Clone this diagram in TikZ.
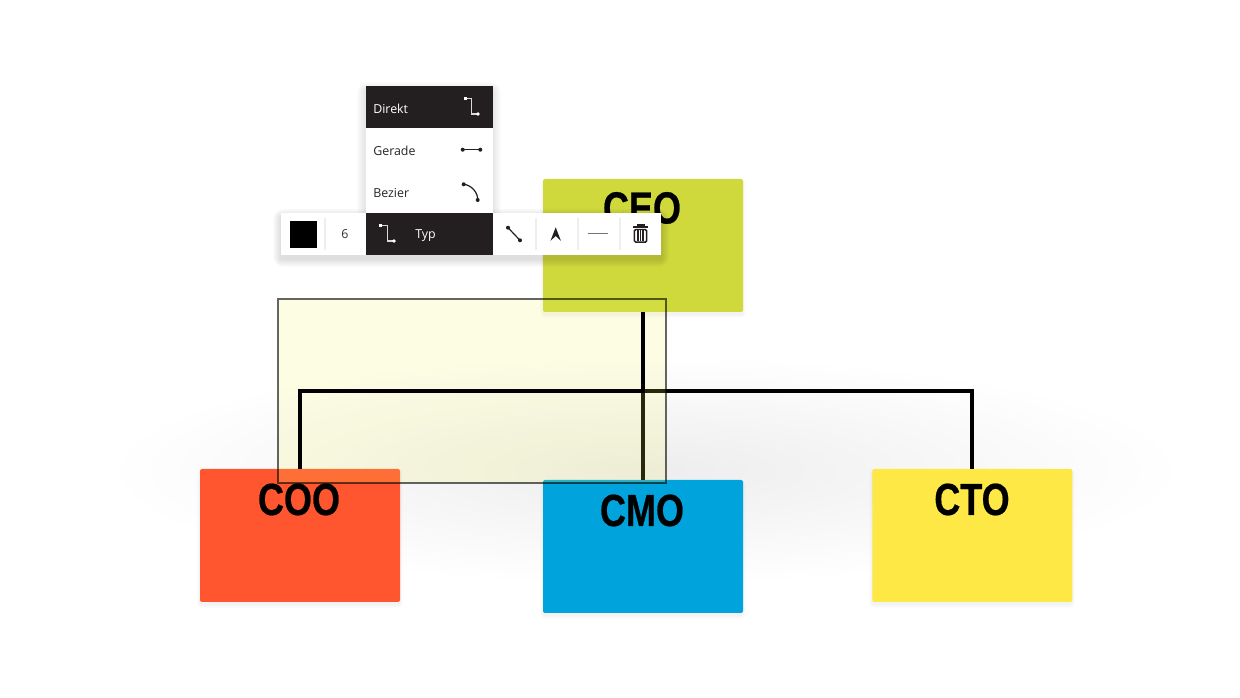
\documentclass[tikz,border=0pt]{standalone}
\usepackage{fontspec}
\setmainfont{Open Sans}
\newfontfamily\stickyfont[FakeStretch=0.8,BoldFeatures={FakeStretch=0.8,FakeBold=0.5}]{Liberation Sans}
\definecolor{ceoc}{HTML}{CFD93B}
\definecolor{cooc}{HTML}{FF5630}
\definecolor{cmoc}{HTML}{00A3DB}
\definecolor{ctoc}{HTML}{FDE845}
\definecolor{uidark}{HTML}{231F20}
\definecolor{sepc}{HTML}{EEEEEE}
\definecolor{selfill}{RGB}{243,243,92}
\newcommand{\softshadow}[6]{%
  \foreach \i in {1,...,#5}{%
    \fill[black,opacity=#6,rounded corners=\i] (#1-\i,#2-\i+4) rectangle (#3+\i,#4+\i+4);
  }}
\tikzset{
  sticky/.style={minimum width=150pt,minimum height=99.75pt,inner sep=0pt,rounded corners=1.5pt},
  stickytext/.style={font=\stickyfont\bfseries\fontsize{33.75}{36}\selectfont,inner sep=0pt,text=black},
  link/.style={line width=3pt,black,line cap=butt,line join=miter},
  uitext/.style={font=\fontsize{9.3}{12}\selectfont,inner sep=0pt,anchor=west},
  iconline/.style={line width=.9pt,#1},
  iconline/.default=black,
  sepline/.style={sepc,line width=.9pt},
}
\begin{document}
\begin{tikzpicture}[x=.75pt,y=-.75pt]
\useasboundingbox (0,0) rectangle (1240,698);
\fill[white] (0,0) rectangle (1240,698);
% soft glow behind the lower row
\shade[inner color=black!7,outer color=white] (645,470) ellipse [x radius=540,y radius=115];
% shadows of sticky notes
\softshadow{544}{179}{742}{310}{4}{.012}
\softshadow{201}{469}{399}{600}{4}{.012}
\softshadow{544}{480}{742}{611}{4}{.012}
\softshadow{873}{469}{1071}{600}{4}{.012}
% sticky notes
\node[sticky,fill=ceoc] (ceo) at (643,245.5) {};
\node[sticky,fill=cooc] (coo) at (300,535.5) {};
\node[sticky,fill=cmoc] (cmo) at (643,546.5) {};
\node[sticky,fill=ctoc] (cto) at (972.3,535.5) {};
\node[stickytext] (ceolabel) at (642,208) {CEO};
\node[stickytext] (coolabel) at (299,499.5) {COO};
\node[stickytext] (cmolabel) at (642,510.5) {CMO};
\node[stickytext] (ctolabel) at (972,499.5) {CTO};
% connectors under the selection overlay
\coordinate (bus) at (643,391);
\draw[link] (ceo.south) -- (cmo.north);
\draw[link] (ceo.south) -- (bus) -- (cto.north |- bus) -- (cto.north);
% selection overlay
\fill[selfill,opacity=.16] (278,299) rectangle (666,483);
\draw[black,opacity=.6,line width=1pt] (278,299) rectangle (666,483);
% connector above the overlay
\draw[link] (ceo.south) -- (bus) -- (coo.north |- bus) -- (coo.north);
% menu and toolbar shadows
\softshadow{365}{86}{493}{213}{8}{.012}
\softshadow{281}{213}{661}{255}{8}{.016}
% menu
\node[fill=white,minimum width=95.25pt,minimum height=95.25pt,inner sep=0pt] (menu) at (429,149.5) {};
\fill[uidark] (365.5,86) rectangle (492.5,128);
\node[uitext,text=white] (direkt) at (373,109) {Direkt};
\node[uitext,text=black!85] (gerade) at (373,151) {Gerade};
\node[uitext,text=black!85] (bezier) at (373,193.3) {Bezier};
% toolbar
\node[fill=white,minimum width=285pt,minimum height=31.5pt,inner sep=0pt] (bar) at (471,234) {};
\fill[uidark] (365.5,213) rectangle (492.5,255);
\fill[black] (290,221.5) rectangle (316.5,248);
\node[font=\fontsize{9.3}{12}\selectfont,inner sep=0pt,text=black!80] (num) at (345,234.5) {6};
\node[uitext,text=white] (typ) at (415,236) {Typ};
\draw[sepline] (325,218) -- (325,250);
\draw[sepline] (536,218) -- (536,250);
\draw[sepline] (578,218) -- (578,250);
\draw[sepline] (620,218) -- (620,250);
% icon: Direkt
\draw[iconline=white!85!black] (465.3,98.7) -- (471.7,98.7) -- (471.7,114) -- (478,114);
\fill[white] (463.8,97.2) rectangle (466.8,100.2);
\fill[white] (478,114) circle (1.9);
% icon: Gerade
\draw[iconline=uidark] (462.7,149.7) -- (480.3,149.7);
\fill[uidark] (462.7,149.7) circle (2);
\fill[uidark] (480.3,149.7) circle (2);
% icon: Bezier
\draw[iconline=uidark] (463.7,184.3) .. controls (471,185) and (478,192) .. (477.7,200);
\fill[uidark] (463.7,184.3) circle (2);
\fill[uidark] (477.7,200) circle (2);
% icon: Typ
\draw[iconline=white!85!black] (380.7,225.3) -- (387.3,225.3) -- (387.3,241) -- (394,241);
\fill[white] (379.2,223.8) rectangle (382.2,226.8);
\fill[white] (394,241) circle (1.9);
% icon: line
\draw[iconline=uidark] (508,227.7) -- (520,240.3);
\fill[uidark] (508,227.7) circle (2);
\fill[uidark] (520,240.3) circle (2);
% icon: arrow head
\fill[uidark] (555.7,227.3) -- (560.9,240.8) -- (555.7,236) -- (550.5,240.8) -- cycle;
% icon: dash
\draw[black!55,line width=1.2pt] (588.3,233.7) -- (607.7,233.7);
% icon: trash
\fill[uidark] (636.5,224) rectangle (644.5,225.6);
\fill[uidark] (632.7,225.6) rectangle (648.3,228.2);
\draw[uidark,line width=1.1pt,rounded corners=1pt] (634.4,229.5) -- (634.4,242.2) -- (646.6,242.2) -- (646.6,229.5) -- cycle;
\draw[uidark,line width=1pt] (637.9,230.5) -- (637.9,241);
\draw[uidark,line width=1pt] (640.5,230.5) -- (640.5,241);
\draw[uidark,line width=1pt] (643.1,230.5) -- (643.1,241);
\end{tikzpicture}
\end{document}
